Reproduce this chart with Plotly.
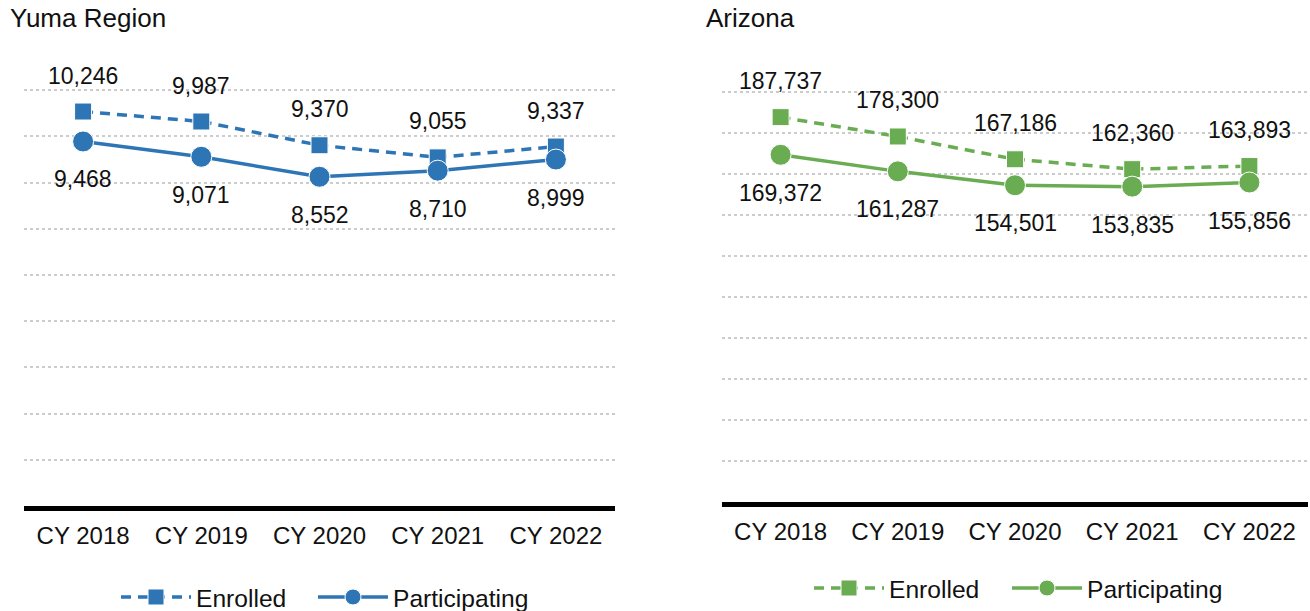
import plotly.graph_objects as go

years = ["CY 2018", "CY 2019", "CY 2020", "CY 2021", "CY 2022"]

yuma_enrolled = [10246, 9987, 9370, 9055, 9337]
yuma_participating = [9468, 9071, 8552, 8710, 8999]

az_enrolled = [187737, 178300, 167186, 162360, 163893]
az_participating = [169372, 161287, 154501, 153835, 155856]

BLUE = "#2E75B6"
GREEN = "#6AAC51"
FONT = "Liberation Sans, Arial, sans-serif"

fig = go.Figure()


def add_pair(enrolled, participating, color, xa, ya, leg_e, leg_p):
    fig.add_trace(go.Scatter(
        x=years, y=enrolled, name="Enrolled", mode="lines+markers",
        line=dict(color=color, width=3.5, dash="10px,7px"),
        marker=dict(symbol="square", size=17, color=color, line=dict(color="white", width=1)),
        xaxis=xa, yaxis=ya, legend=leg_e,
    ))
    fig.add_trace(go.Scatter(
        x=years, y=participating, name="Participating", mode="lines+markers",
        line=dict(color=color, width=3.5),
        marker=dict(symbol="circle", size=21, color=color, line=dict(color="white", width=1)),
        xaxis=xa, yaxis=ya, legend=leg_p,
    ))
    # data labels: enrolled above, participating below
    for x, e, p in zip(years, enrolled, participating):
        fig.add_annotation(x=x, y=e, text=f"{e:,}", showarrow=False, yshift=36,
                           xref=xa, yref=ya, font=dict(size=23, color="#111"))
        fig.add_annotation(x=x, y=p, text=f"{p:,}", showarrow=False, yshift=-38,
                           xref=xa, yref=ya, font=dict(size=23, color="#111"))


# one legend per entry so each can sit exactly where the original has it
add_pair(yuma_enrolled, yuma_participating, BLUE, "x", "y", "legend", "legend2")
add_pair(az_enrolled, az_participating, GREEN, "x2", "y2", "legend3", "legend4")

xstyle = dict(type="category", range=[-0.5, 4.5], showgrid=False, zeroline=False,
              showline=True, linecolor="black", linewidth=5, ticks="",
              tickfont=dict(size=24, color="#111"), ticklabelstandoff=4)
ystyle = dict(showticklabels=False, zeroline=False, showline=False, ticks="",
              showgrid=True, gridcolor="#CCCCCC", gridwidth=1.5, griddash="dot")
legstyle = dict(orientation="h", xanchor="left", yanchor="middle",
                font=dict(size=24.6), itemwidth=70, bgcolor="rgba(0,0,0,0)")

fig.update_layout(
    width=1310, height=611,
    margin=dict(l=0, r=0, t=0, b=0, autoexpand=False),
    paper_bgcolor="white", plot_bgcolor="white",
    font=dict(family=FONT, size=22, color="#111"),
    showlegend=True,
    xaxis=dict(domain=[24 / 1310, 615 / 1310], anchor="y", **xstyle),
    yaxis=dict(domain=[105 / 611, 567 / 611], anchor="x", range=[0, 12000],
               tickvals=[1200 * i for i in range(1, 10)], **ystyle),
    xaxis2=dict(domain=[722 / 1310, 1308 / 1310], anchor="y2", **xstyle),
    yaxis2=dict(domain=[109 / 611, 560 / 611], anchor="x2", range=[0, 220000],
                tickvals=[20000 * i for i in range(1, 11)], **ystyle),
    legend=dict(x=116 / 1310, y=14 / 611, **legstyle),
    legend2=dict(x=313 / 1310, y=14 / 611, **legstyle),
    legend3=dict(x=809 / 1310, y=23 / 611, **legstyle),
    legend4=dict(x=1007 / 1310, y=23 / 611, **legstyle),
)

fig.add_annotation(text="Yuma Region", x=8 / 1310, y=1 - 18 / 611, xref="paper", yref="paper",
                   xanchor="left", yanchor="middle", showarrow=False, font=dict(size=26, color="#111"))
fig.add_annotation(text="Arizona", x=704 / 1310, y=1 - 18 / 611, xref="paper", yref="paper",
                   xanchor="left", yanchor="middle", showarrow=False, font=dict(size=26, color="#111"))

# drop the default page margin so the 1310x611 figure fills the window
fig.write_html("out.html", config={"displayModeBar": False},
               post_script="document.body.style.margin='0';document.body.style.overflow='hidden';")
